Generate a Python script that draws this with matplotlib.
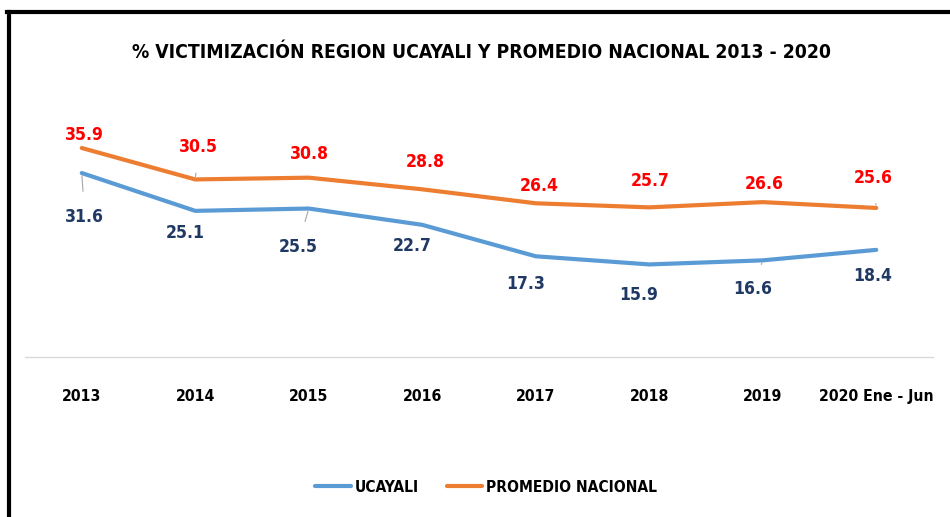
import matplotlib.pyplot as plt
from matplotlib.lines import Line2D

plt.rcParams['font.family'] = ['DejaVu Sans']
plt.rcParams['font.stretch'] = 'condensed'

years = ['2013', '2014', '2015', '2016', '2017', '2018', '2019', '2020 Ene - Jun']
ucayali = [31.6, 25.1, 25.5, 22.7, 17.3, 15.9, 16.6, 18.4]
nacional = [35.9, 30.5, 30.8, 28.8, 26.4, 25.7, 26.6, 25.6]

BLUE = '#5B9BD5'
ORANGE = '#ED7D31'

# label offsets in pixels (dx, dy) and whether a leader line is drawn
off_nac = [(3, 13), (3, 32), (1, 24), (3, 27), (3, 17), (1, 26), (1, 18), (-3, 30)]
lead_nac = [False, True, False, False, False, False, False, True]
off_uca = [(3, -44), (-10, -22), (-11, -38), (-10, -21), (-10, -28), (-11, -31), (-10, -29), (-4, -26)]
lead_uca = [True, False, True, False, False, False, True, False]

fig = plt.figure(figsize=(9.5, 5.17), dpi=100)
renderer = fig.canvas.get_renderer()


def fit(txt, width_px):
    # scale font size so the text is about width_px wide
    w = txt.get_window_extent(renderer).width
    txt.set_fontsize(txt.get_fontsize() * width_px / w)
    return txt.get_fontsize()


ax = fig.add_axes([25 / 950, 1 - 357 / 517, 908 / 950, 262 / 517])
x = list(range(len(years)))

ax.plot(x, ucayali, color=BLUE, lw=3, label='UCAYALI', solid_capstyle='round')
ax.plot(x, nacional, color=ORANGE, lw=3, label='PROMEDIO NACIONAL', solid_capstyle='round')

ax.set_xlim(-0.5, len(years) - 0.5)
ax.set_ylim(0, 45)

probe = fig.text(0, 0, '35.9', fontsize=15, fontweight='bold')
val_size = fit(probe, 39)
probe.remove()


def label(xi, yi, off, lead, color):
    arrow = dict(arrowstyle='-', color='#A6A6A6', lw=0.8, shrinkA=10, shrinkB=2) if lead else None
    ax.annotate(f'{yi:.1f}', (xi, yi), xytext=off, textcoords='offset pixels',
                ha='center', va='center', color=color, fontsize=val_size,
                fontweight='bold', arrowprops=arrow)


for i in x:
    label(i, nacional[i], off_nac[i], lead_nac[i], '#FF0000')
    label(i, ucayali[i], off_uca[i], lead_uca[i], '#1F3864')

for s in ['left', 'right', 'top']:
    ax.spines[s].set_visible(False)
ax.spines['bottom'].set_color('#D9D9D9')
ax.spines['bottom'].set_linewidth(1)
ax.set_yticks([])
ax.set_xticks(x)

probe = fig.text(0, 0, '2013', fontsize=13, fontweight='bold')
tick_size = fit(probe, 39)
probe.remove()
ax.set_xticklabels(years, fontsize=tick_size, fontweight='bold')
ax.tick_params(axis='x', length=0, pad=23)

title = fig.text(482 / 950, 1 - 52 / 517, '% VICTIMIZACIÓN REGION UCAYALI Y PROMEDIO NACIONAL 2013 - 2020',
                 ha='center', va='center', fontsize=17, fontweight='bold')
fit(title, 700)

probe = fig.text(0, 0, 'PROMEDIO NACIONAL', fontsize=13, fontweight='bold')
leg_size = fit(probe, 171)
probe.remove()
fig.legend(loc='center', bbox_to_anchor=(486 / 950, 1 - 487 / 517), ncol=2, frameon=False,
           prop=dict(size=leg_size, weight='bold', stretch='condensed'),
           handlelength=2.3, handletextpad=0.2, columnspacing=1.8)

# black frame on left and top
fig.add_artist(Line2D([8.5 / 950, 8.5 / 950], [0, 1 - 12 / 517], color='black', lw=3))
fig.add_artist(Line2D([7 / 950, 1], [1 - 12 / 517, 1 - 12 / 517], color='black', lw=3))

fig.savefig('out.png', dpi=100)
